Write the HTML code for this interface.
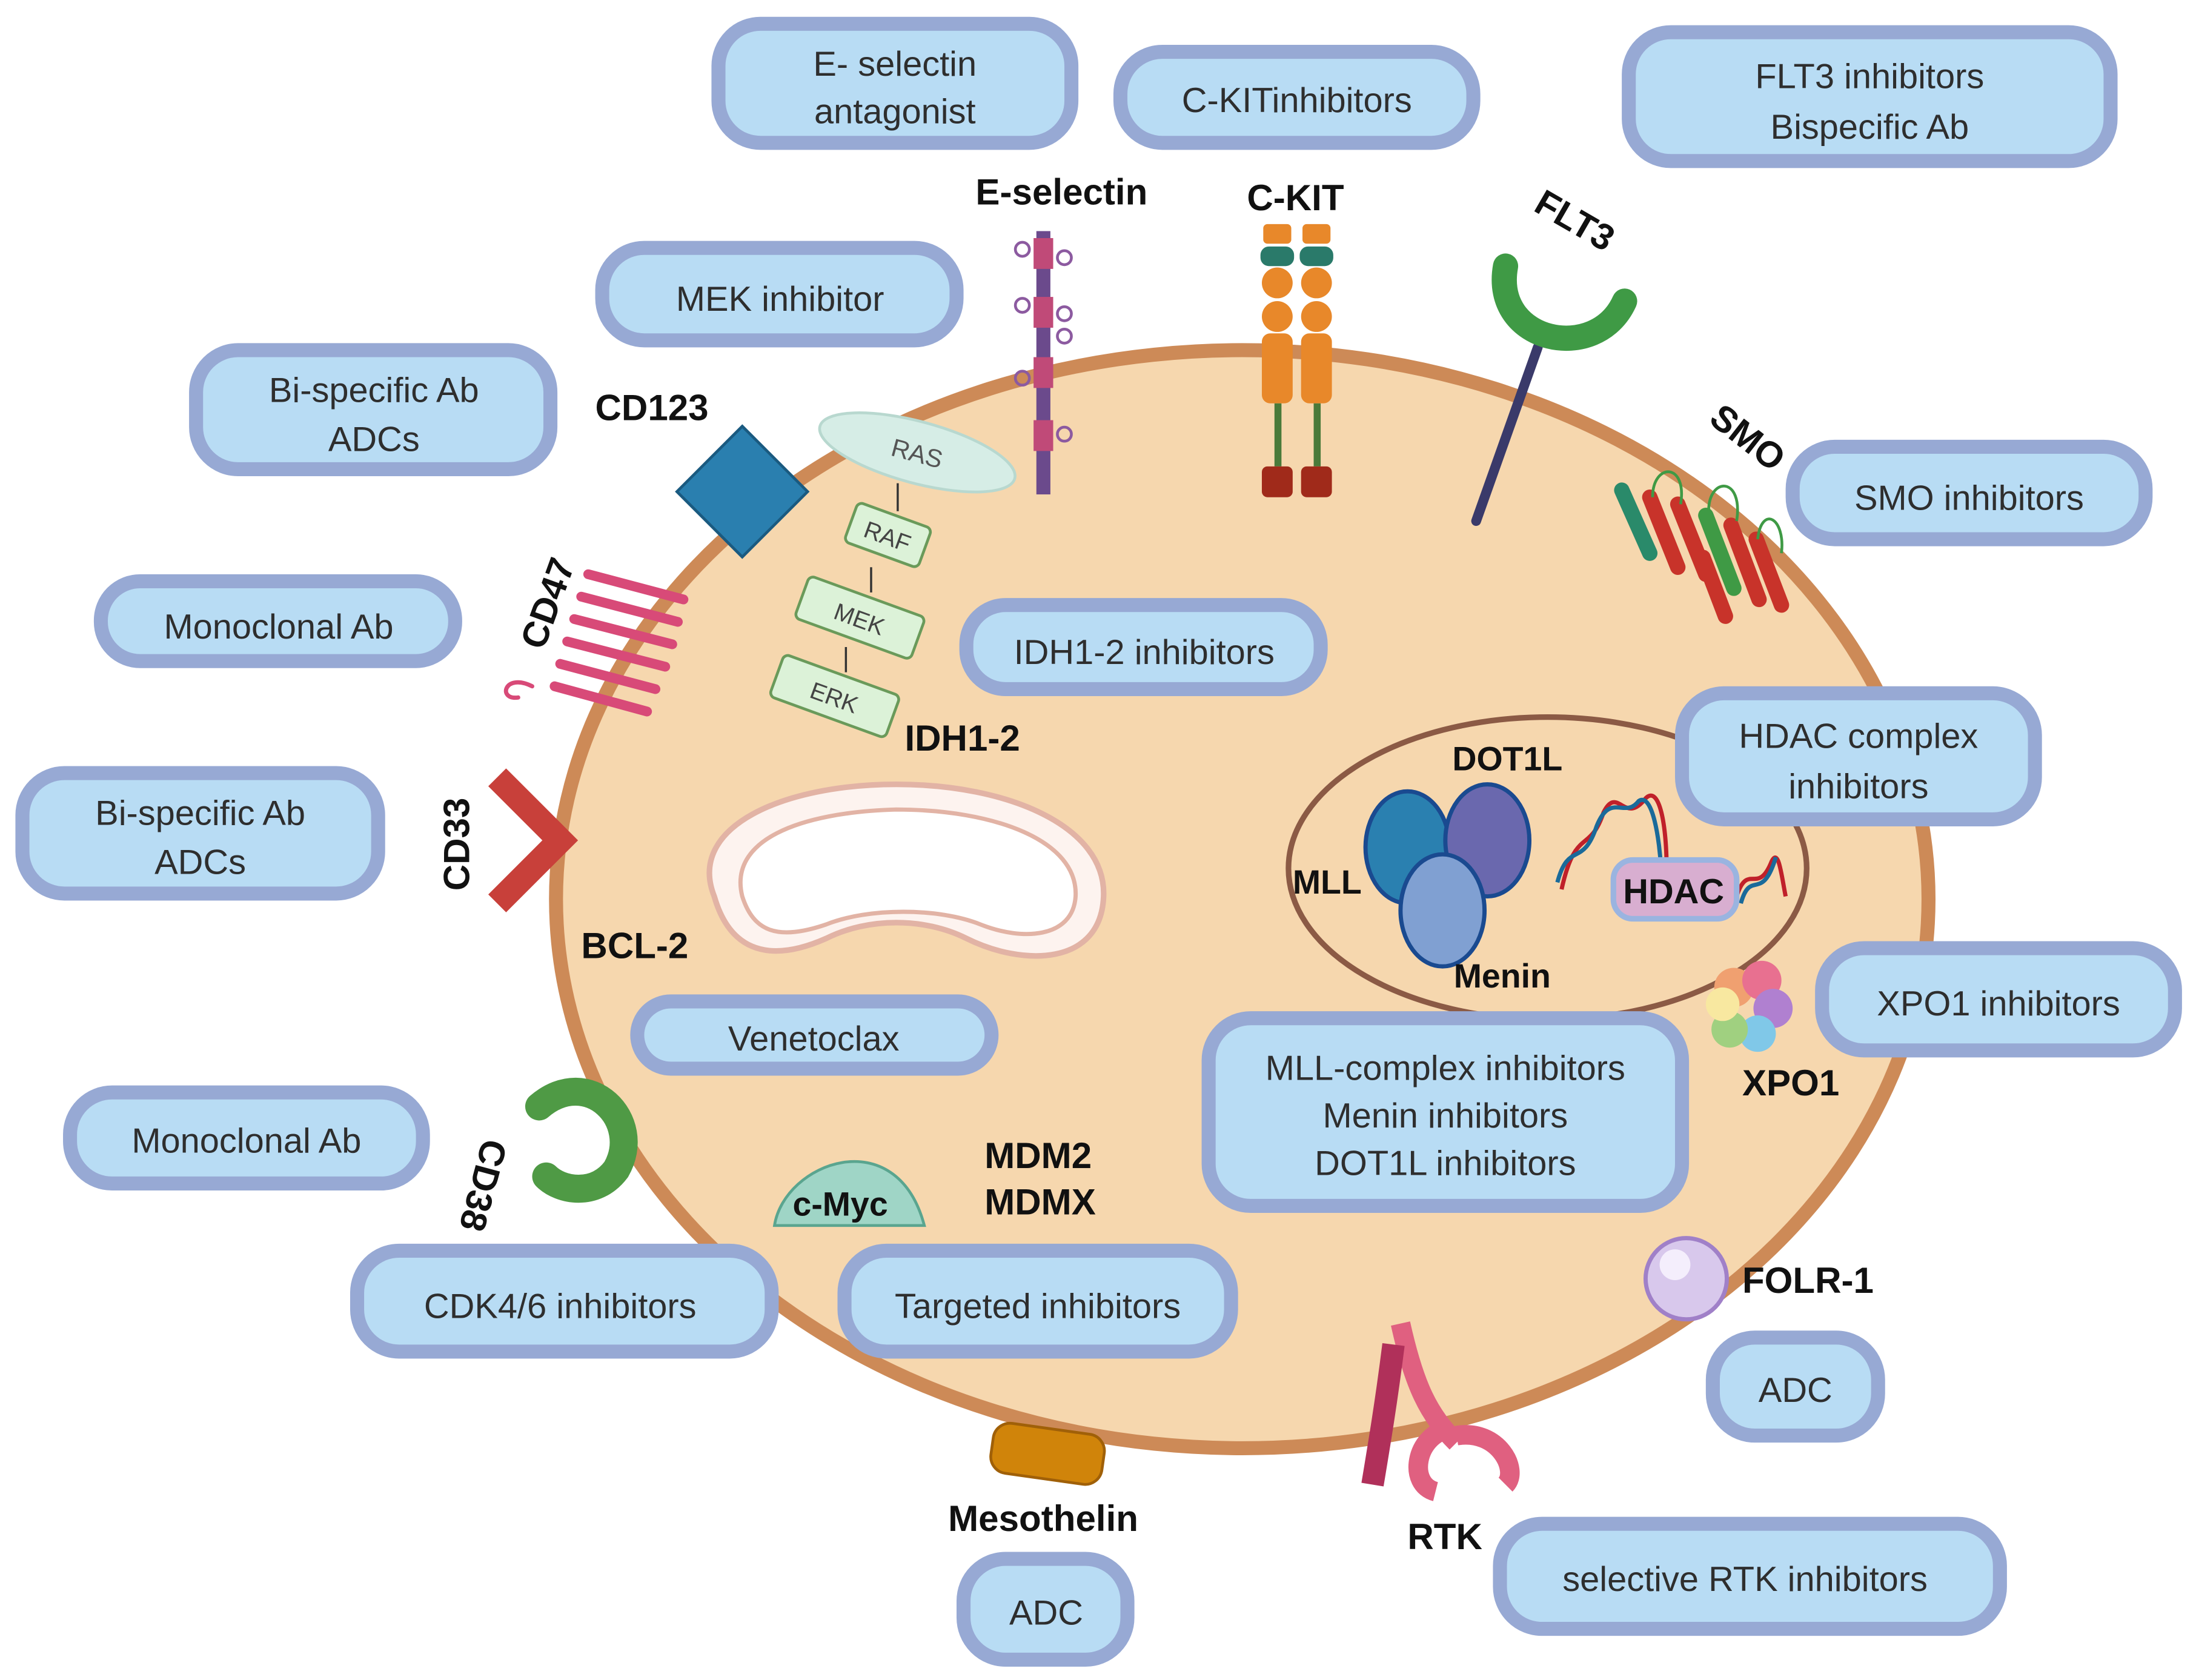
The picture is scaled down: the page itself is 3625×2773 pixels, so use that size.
<!DOCTYPE html>
<html><head><meta charset="utf-8"><style>
html,body{margin:0;padding:0;background:#fff;}
svg{display:block;}
.bx{fill:#b8dcf4;stroke:#97a9d4;stroke-width:10;}
.bt{font-family:"Liberation Sans",sans-serif;font-size:25px;fill:#2e2e2e;text-anchor:middle;}
.lb{font-family:"Liberation Sans",sans-serif;font-size:26px;font-weight:bold;fill:#111;}
</style></head><body>
<svg width="3625" height="2773" viewBox="0 0 1568 1199.5" preserveAspectRatio="none" xmlns="http://www.w3.org/2000/svg">
<rect width="1568" height="1200" fill="#fff"/>
<!-- cell -->
<ellipse cx="887" cy="642" rx="490" ry="392" fill="#f6d7ae" stroke="#cd8a57" stroke-width="10"/>
<!-- nucleus -->
<ellipse cx="1105" cy="620" rx="185" ry="108" fill="#f6d7ae" stroke="#8b5a45" stroke-width="4"/>
<!-- mitochondria -->
<path d="M510,640 C490,590 560,560 640,560 C720,560 790,590 788,640 C786,690 730,690 690,670 C660,655 620,655 590,670 C545,690 520,675 510,640Z" fill="#fdf3ef" stroke="#e2b3a5" stroke-width="4"/>
<path d="M530,640 C520,600 570,580 640,578 C710,578 770,600 768,640 C766,670 730,672 700,660 C670,648 620,648 590,660 C555,672 538,665 530,640Z" fill="#fff" stroke="#e2b3a5" stroke-width="3"/>
<!-- RAS pathway -->
<ellipse cx="655" cy="323" rx="72" ry="22" transform="rotate(15 655 323)" fill="#d6ede6" stroke="#b8d8cf" stroke-width="2"/>
<text x="655" y="330" font-family="Liberation Sans" font-size="18" fill="#555" text-anchor="middle" transform="rotate(15 655 323)">RAS</text>
<g font-family="Liberation Sans" font-size="17" fill="#444" text-anchor="middle">
<rect x="606" y="367" width="56" height="30" rx="4" fill="#dcf2d8" stroke="#6a9a5a" stroke-width="2" transform="rotate(20 634 382)"/><text x="634" y="389" transform="rotate(20 634 382)">RAF</text>
<rect x="570" y="425" width="88" height="32" rx="4" fill="#dcf2d8" stroke="#6a9a5a" stroke-width="2" transform="rotate(20 614 441)"/><text x="614" y="448" transform="rotate(20 614 441)">MEK</text>
<rect x="552" y="481" width="88" height="32" rx="4" fill="#dcf2d8" stroke="#6a9a5a" stroke-width="2" transform="rotate(20 596 497)"/><text x="596" y="504" transform="rotate(20 596 497)">ERK</text>
</g>
<path d="M641,345 L641,365 M622,405 L622,423 M604,462 L604,480" stroke="#333" stroke-width="1.5"/>
<!-- E-selectin -->
<rect x="740" y="165" width="10" height="188" fill="#6b4a8c"/>
<g fill="#c04a78"><rect x="738" y="170" width="14" height="22"/><rect x="738" y="212" width="14" height="22"/><rect x="738" y="255" width="14" height="22"/><rect x="738" y="300" width="14" height="22"/></g>
<g fill="none" stroke="#8c5aa0" stroke-width="2"><circle cx="730" cy="178" r="5"/><circle cx="760" cy="184" r="5"/><circle cx="730" cy="218" r="5"/><circle cx="760" cy="224" r="5"/><circle cx="760" cy="240" r="5"/><circle cx="730" cy="270" r="5"/><circle cx="760" cy="310" r="5"/></g>
<!-- C-KIT -->
<g>
<rect x="902" y="160" width="20" height="14" rx="3" fill="#e8882a"/><rect x="930" y="160" width="20" height="14" rx="3" fill="#e8882a"/>
<rect x="900" y="176" width="24" height="14" rx="6" fill="#2a7a6a"/><rect x="928" y="176" width="24" height="14" rx="6" fill="#2a7a6a"/>
<circle cx="912" cy="202" r="11" fill="#e8882a"/><circle cx="940" cy="202" r="11" fill="#e8882a"/>
<circle cx="912" cy="226" r="11" fill="#e8882a"/><circle cx="940" cy="226" r="11" fill="#e8882a"/>
<rect x="901" y="238" width="22" height="50" rx="6" fill="#e8882a"/><rect x="929" y="238" width="22" height="50" rx="6" fill="#e8882a"/>
<rect x="910" y="288" width="5" height="45" fill="#4a7a3a"/><rect x="938" y="288" width="5" height="45" fill="#4a7a3a"/>
<rect x="901" y="333" width="22" height="22" rx="4" fill="#a02a1a"/><rect x="929" y="333" width="22" height="22" rx="4" fill="#a02a1a"/>
</g>
<!-- FLT3 -->
<line x1="1098" y1="248" x2="1054" y2="372" stroke="#3a3a6a" stroke-width="7" stroke-linecap="round"/>
<path d="M1075,190 C1065,245 1140,260 1160,215" fill="none" stroke="#3f9a45" stroke-width="18" stroke-linecap="round"/>
<!-- SMO -->
<g stroke-width="11" stroke-linecap="round">
<line x1="1158" y1="350" x2="1178" y2="395" stroke="#2a8a6a"/><line x1="1178" y1="355" x2="1198" y2="405" stroke="#c8332a"/>
<line x1="1198" y1="360" x2="1218" y2="410" stroke="#c8332a"/><line x1="1218" y1="368" x2="1238" y2="420" stroke="#3f9a45"/>
<line x1="1236" y1="375" x2="1256" y2="428" stroke="#c8332a"/><line x1="1254" y1="385" x2="1272" y2="432" stroke="#c8332a"/><line x1="1216" y1="398" x2="1232" y2="440" stroke="#c8332a"/>
</g>
<path d="M1180,355 C1180,330 1205,330 1200,360 M1220,365 C1220,340 1245,340 1240,372 M1255,385 C1258,360 1275,370 1272,395" fill="none" stroke="#3f9a45" stroke-width="2"/>
<!-- CD123 -->
<rect x="497" y="318" width="66" height="66" fill="#2a7faf" stroke="#1a5a80" stroke-width="2" transform="rotate(45 530 351)"/>
<!-- CD47 -->
<g stroke="#d84a78" stroke-width="7" stroke-linecap="round" fill="none">
<line x1="420" y1="410" x2="488" y2="428"/><line x1="415" y1="426" x2="484" y2="444"/><line x1="410" y1="442" x2="480" y2="460"/><line x1="405" y1="458" x2="475" y2="476"/><line x1="400" y1="474" x2="468" y2="492"/><line x1="396" y1="490" x2="462" y2="508"/>
<path d="M380,490 C360,480 355,500 370,498" stroke-width="3"/>
</g>
<!-- CD33 -->
<path d="M355,555 L400,600 L355,645" fill="none" stroke="#c8403a" stroke-width="18"/>
<!-- CD38 -->
<path d="M385,790 C420,760 460,800 440,835 C425,855 400,850 390,840" fill="none" stroke="#4f9a45" stroke-width="20" stroke-linecap="round"/>
<!-- c-Myc -->
<path d="M553,875 C560,830 640,800 660,875 Z" fill="#9fd5c6" stroke="#5aa58f" stroke-width="2"/>
<text x="600" y="868" class="lb" style="font-size:24px" text-anchor="middle">c-Myc</text>
<!-- Mesothelin -->
<rect x="708" y="1020" width="80" height="36" rx="12" transform="rotate(8 748 1038)" fill="#d0840a" stroke="#a06008" stroke-width="2"/>
<!-- RTK -->
<path d="M1000,945 C1010,990 1020,1010 1040,1030" stroke="#e06080" stroke-width="14" fill="none"/>
<path d="M1035,1020 C1010,1025 1005,1060 1025,1065 M1040,1025 C1070,1020 1085,1050 1075,1060" stroke="#e06080" stroke-width="14" fill="none"/>
<path d="M995,960 C990,1000 985,1030 980,1060" stroke="#b0305a" stroke-width="16" fill="none"/>
<!-- FOLR-1 -->
<circle cx="1204" cy="913" r="29" fill="#d8c8ec" stroke="#a080c8" stroke-width="3"/><circle cx="1196" cy="903" r="11" fill="#f4eefc"/>
<!-- XPO1 -->
<g><circle cx="1238" cy="705" r="14" fill="#f0a070"/><circle cx="1258" cy="700" r="14" fill="#e87090"/><circle cx="1266" cy="720" r="14" fill="#b080d0"/><circle cx="1255" cy="738" r="13" fill="#80c8e8"/><circle cx="1235" cy="735" r="13" fill="#a0d080"/><circle cx="1230" cy="717" r="12" fill="#f8e8a0"/></g>
<!-- MLL complex -->
<ellipse cx="1005" cy="605" rx="30" ry="40" fill="#2a80b0" stroke="#1a4a90" stroke-width="3"/>
<ellipse cx="1062" cy="600" rx="30" ry="40" fill="#6a68ae" stroke="#1a4a90" stroke-width="3"/>
<ellipse cx="1030" cy="650" rx="30" ry="40" fill="#80a0d2" stroke="#1a4a90" stroke-width="3"/>
<!-- DNA + HDAC -->
<path d="M1115,635 C1125,590 1135,610 1145,580 C1155,560 1160,590 1175,570 C1185,560 1190,590 1190,620" fill="none" stroke="#c0202a" stroke-width="3"/>
<path d="M1112,630 C1120,600 1130,620 1140,590 C1150,565 1160,585 1170,572 C1180,565 1185,600 1186,620" fill="none" stroke="#1a6a9a" stroke-width="3"/>
<path d="M1240,640 C1248,615 1255,640 1265,615 C1270,605 1272,625 1275,640" fill="none" stroke="#c0202a" stroke-width="3"/>
<path d="M1243,645 C1250,620 1258,645 1268,612" fill="none" stroke="#1a6a9a" stroke-width="3"/>
<rect x="1152" y="614" width="88" height="42" rx="14" fill="#d8aed0" stroke="#9ab4e0" stroke-width="4"/>
<text x="1195" y="645" class="lb" text-anchor="middle" style="font-size:25px">HDAC</text>
<!-- labels -->
<text x="758" y="146" class="lb" text-anchor="middle">E-selectin</text>
<text x="925" y="150" class="lb" text-anchor="middle">C-KIT</text>
<text x="1090" y="165" class="lb" transform="rotate(30 1120 165)">FLT3</text>
<text x="1212" y="318" class="lb" transform="rotate(38 1240 320)">SMO</text>
<text x="425" y="300" class="lb">CD123</text>
<text x="0" y="0" class="lb" transform="translate(388 465) rotate(-70)">CD47</text>
<text x="0" y="0" class="lb" transform="translate(335 636) rotate(-90)">CD33</text>
<text x="0" y="0" class="lb" transform="translate(345 812) rotate(105)">CD38</text>
<text x="646" y="536" class="lb">IDH1-2</text>
<text x="415" y="684" class="lb">BCL-2</text>
<text x="1037" y="550" class="lb" style="font-size:24px">DOT1L</text>
<text x="923" y="638" class="lb" style="font-size:24px">MLL</text>
<text x="1038" y="705" class="lb" style="font-size:24px">Menin</text>
<text x="1244" y="782" class="lb">XPO1</text>
<text x="703" y="834" class="lb">MDM2</text>
<text x="703" y="867" class="lb">MDMX</text>
<text x="1244" y="923" class="lb">FOLR-1</text>
<text x="677" y="1093" class="lb">Mesothelin</text>
<text x="1005" y="1106" class="lb">RTK</text>
<!-- boxes -->
<g>
<rect class="bx" x="513" y="17" width="252" height="85" rx="30"/><text class="bt" x="639" y="54">E- selectin</text><text class="bt" x="639" y="88">antagonist</text>
<rect class="bx" x="800" y="37" width="252" height="65" rx="30"/><text class="bt" x="926" y="80">C-KITinhibitors</text>
<rect class="bx" x="1163" y="23" width="344" height="92" rx="30"/><text class="bt" x="1335" y="63">FLT3 inhibitors</text><text class="bt" x="1335" y="99">Bispecific Ab</text>
<rect class="bx" x="430" y="177" width="253" height="66" rx="30"/><text class="bt" x="557" y="222">MEK inhibitor</text>
<rect class="bx" x="140" y="250" width="253" height="85" rx="30"/><text class="bt" x="267" y="287">Bi-specific Ab</text><text class="bt" x="267" y="322">ADCs</text>
<rect class="bx" x="1280" y="319" width="252" height="66" rx="30"/><text class="bt" x="1406" y="364">SMO inhibitors</text>
<rect class="bx" x="72" y="415" width="253" height="57" rx="28"/><text class="bt" x="199" y="456">Monoclonal Ab</text>
<rect class="bx" x="690" y="432" width="253" height="60" rx="28"/><text class="bt" x="817" y="474">IDH1-2 inhibitors</text>
<rect class="bx" x="1201" y="495" width="252" height="90" rx="30"/><text class="bt" x="1327" y="534">HDAC complex</text><text class="bt" x="1327" y="570">inhibitors</text>
<rect class="bx" x="16" y="552" width="254" height="86" rx="30"/><text class="bt" x="143" y="589">Bi-specific Ab</text><text class="bt" x="143" y="624">ADCs</text>
<rect class="bx" x="1301" y="677" width="252" height="73" rx="30"/><text class="bt" x="1427" y="725">XPO1 inhibitors</text>
<rect class="bx" x="455" y="715" width="253" height="48" rx="24"/><text class="bt" x="581" y="750">Venetoclax</text>
<rect class="bx" x="863" y="727" width="338" height="134" rx="30"/><text class="bt" x="1032" y="771">MLL-complex inhibitors</text><text class="bt" x="1032" y="805">Menin inhibitors</text><text class="bt" x="1032" y="839">DOT1L inhibitors</text>
<rect class="bx" x="50" y="780" width="252" height="65" rx="30"/><text class="bt" x="176" y="823">Monoclonal Ab</text>
<rect class="bx" x="255" y="893" width="296" height="72" rx="30"/><text class="bt" x="400" y="941">CDK4/6 inhibitors</text>
<rect class="bx" x="603" y="893" width="276" height="72" rx="30"/><text class="bt" x="741" y="941">Targeted inhibitors</text>
<rect class="bx" x="1223" y="955" width="118" height="70" rx="30"/><text class="bt" x="1282" y="1001">ADC</text>
<rect class="bx" x="688" y="1113" width="117" height="72" rx="30"/><text class="bt" x="747" y="1160">ADC</text>
<rect class="bx" x="1071" y="1088" width="357" height="75" rx="30"/><text class="bt" x="1246" y="1136">selective RTK inhibitors</text>
</g>
</svg>
</body></html>
